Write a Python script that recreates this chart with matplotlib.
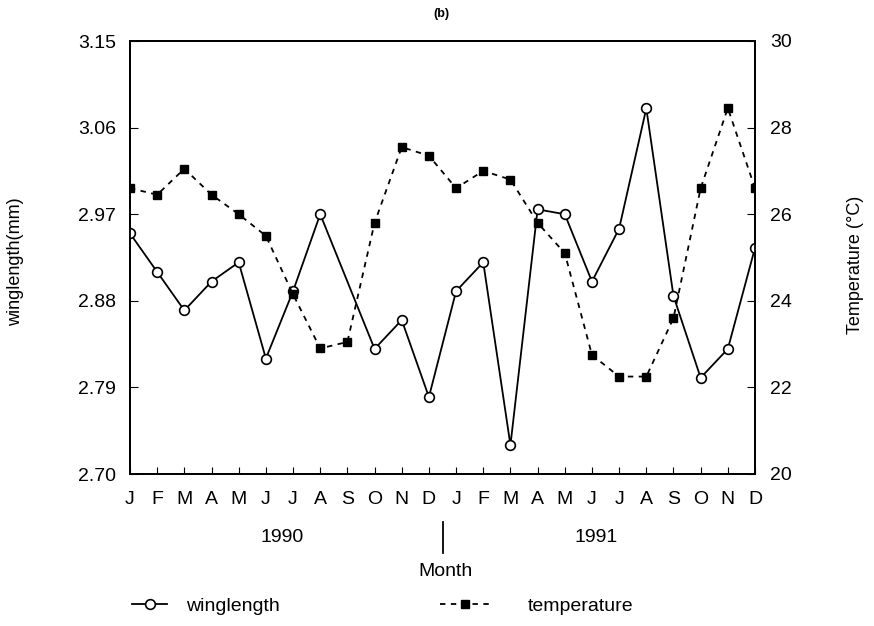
import matplotlib.pyplot as plt
import numpy as np

plt.rcParams['font.family'] = ['Liberation Sans', 'DejaVu Sans']

months = ['J', 'F', 'M', 'A', 'M', 'J', 'J', 'A', 'S', 'O', 'N', 'D'] * 2
years = ['1990', '1991']

# Sep 1990 has no winglength sample
winglength = [2.95, 2.91, 2.87, 2.90, 2.92, 2.82, 2.89, 2.97, np.nan, 2.83, 2.86, 2.78,
              2.89, 2.92, 2.73, 2.975, 2.97, 2.90, 2.955, 3.08, 2.885, 2.80, 2.83, 2.935]
temperature = [26.6, 26.45, 27.05, 26.45, 26.0, 25.5, 24.15, 22.9, 23.05, 25.8, 27.55, 27.35,
               26.6, 27.0, 26.8, 25.8, 25.1, 22.75, 22.25, 22.25, 23.6, 26.6, 28.45, 26.6]

x = np.arange(len(months))
wl = np.array(winglength)
ok = ~np.isnan(wl)

W, H = 874, 626
fig = plt.figure(figsize=(W / 100, H / 100), dpi=100)
ax = fig.add_axes([130 / W, 1 - 474 / H, 625 / W, 433 / H])
ax2 = ax.twinx()

l1, = ax.plot(x[ok], wl[ok], '-', color='black', lw=1.3, marker='o', ms=7,
              mfc='white', mec='black', mew=1.2, label='winglength', zorder=3)
l2, = ax2.plot(x, temperature, '--', color='black', lw=1.3, dashes=(3, 3), marker='s',
               ms=6, mfc='black', mec='black', label='temperature')

ax.set_xlim(0, 23)
ax.set_ylim(2.70, 3.15)
ticks = np.arange(2.70, 3.151, 0.09)
ax.set_yticks(ticks)
ax.set_yticklabels(['%.2f' % v for v in ticks])
ax2.set_ylim(20, 30)
ax2.set_yticks(range(20, 31, 2))

ax.set_xticks(x)
ax.set_xticklabels(months, fontsize=14)
ax.tick_params(axis='x', direction='in', length=5, pad=12)
ax.tick_params(axis='y', direction='in', length=6, labelsize=14, pad=10)
ax2.tick_params(axis='y', direction='in', length=6, labelsize=14, pad=11)
for a in (ax, ax2):
    for s in a.spines.values():
        s.set_linewidth(1.3)

fig.text(16 / W, 1 - 262 / H, 'winglength(mm)', rotation=90, ha='center', va='center',
         fontsize=13)
fig.text(855 / W, 1 - 265 / H, 'Temperature (\u00b0C)', rotation=90, ha='center',
         va='center', fontsize=13)

# year labels with a divider between them
fig.text(282 / W, 1 - 538 / H, years[0], ha='center', va='center', fontsize=14)
fig.text(596 / W, 1 - 538 / H, years[1], ha='center', va='center', fontsize=14)
fig.add_artist(plt.Line2D([443 / W, 443 / W], [1 - 522 / H, 1 - 553 / H],
                          color='black', lw=1.3))
fig.text(445 / W, 1 - 571 / H, 'Month', ha='center', va='center', fontsize=14)
fig.text(441 / W, 1 - 14 / H, '(b)', ha='center', va='center', fontsize=9,
         fontweight='bold')

fig.legend(handles=[l1], loc='center left', bbox_to_anchor=(132 / W, 1 - 606 / H),
           frameon=False, fontsize=14, handlelength=1.8, handletextpad=1.0,
           borderpad=0, borderaxespad=0)
fig.legend(handles=[l2], loc='center left', bbox_to_anchor=(440 / W, 1 - 606 / H),
           frameon=False, fontsize=14, handlelength=2.6, handletextpad=1.9,
           borderpad=0, borderaxespad=0)

fig.savefig('out.png', dpi=100)
